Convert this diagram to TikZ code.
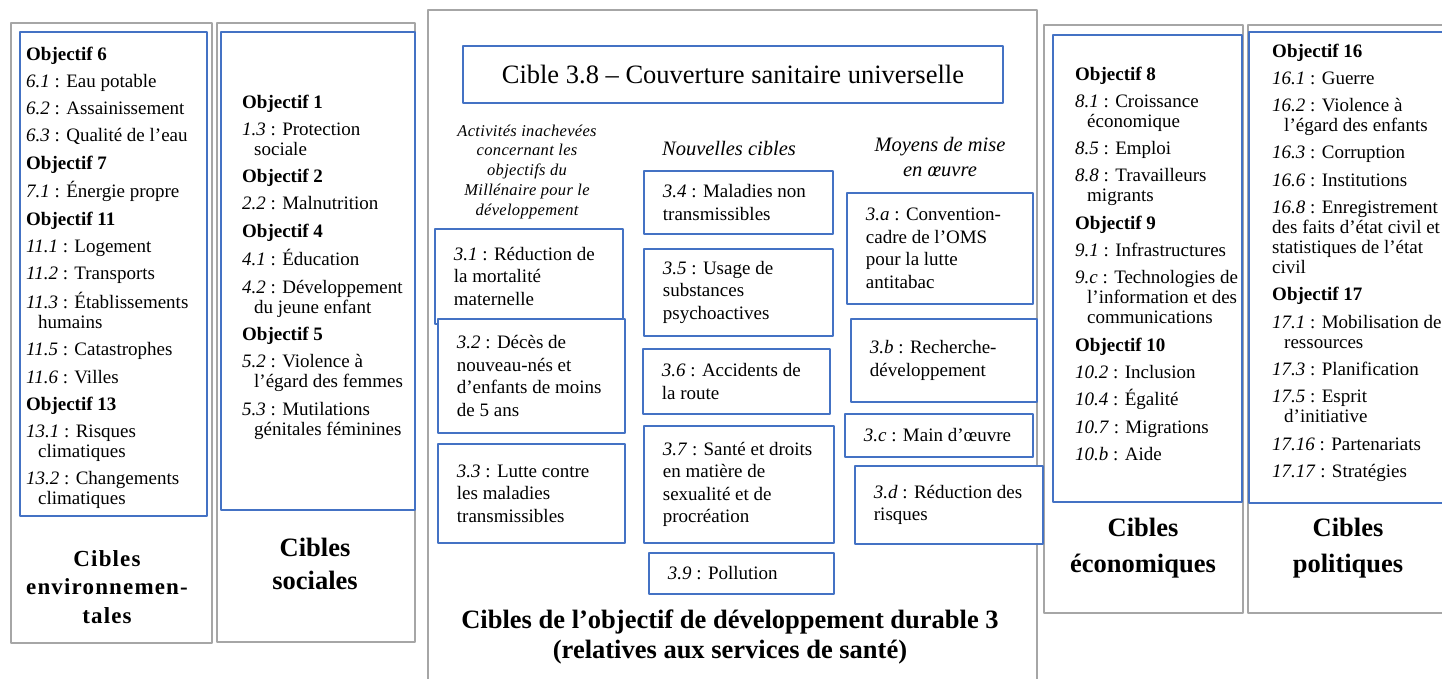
\documentclass[tikz,border=0pt]{standalone}
\usepackage{fontspec}
\setmainfont{Liberation Serif}
\definecolor{boxblue}{HTML}{4472C4}
\definecolor{framegray}{HTML}{A6A6A6}
\newcommand{\obj}[1]{\textbf{Objectif #1}}
\newcommand{\tg}[2]{\textit{#1} : #2}
\newcommand{\ind}{\hspace*{12pt}}
\newcommand{\ig}{7.3pt}
\begin{document}
\begin{tikzpicture}[x=1pt, y=-1pt, line join=round,
	outerbox/.style={draw=framegray, line width=2.5pt},
	panel/.style={draw=boxblue, line width=1.8pt},
	lst/.style={anchor=base west, inner sep=0pt, text width=240pt, align=flush left, font=\fontsize{19}{20}\selectfont},
	cbox/.style={draw=boxblue, fill=white, line width=1.8pt, anchor=north west, inner xsep=19pt, inner ysep=0pt, align=flush left, font=\fontsize{19}{22.5}\selectfont},
	lab/.style={anchor=base, inner sep=0pt, text width=260pt, align=flush center, font=\bfseries\fontsize{26.5}{35}\selectfont},
	colhead/.style={anchor=base, inner sep=0pt, text width=220pt, align=flush center, font=\itshape\fontsize{20.5}{25}\selectfont}]
	\useasboundingbox (0,0) rectangle (1442,678);
	
	% grey frames
	\draw[outerbox] (11,23) rectangle (212,643);
	\draw[outerbox] (217,23) rectangle (415,642);
	\draw[outerbox] (428,10) rectangle (1037,700);
	\draw[outerbox] (1044,25) rectangle (1243,613);
	\draw[outerbox] (1248,25) rectangle (1470,613);
	
	% blue panels
	\draw[panel] (20,32) rectangle (207,516);
	\draw[panel] (221,32) rectangle (415,510);
	\draw[panel] (1053,35) rectangle (1242,502);
	\draw[panel] (1249,32) rectangle (1470,503);
	
	% environnement
	\node[lst] (env) at (26,60) {\obj{6}\\[\ig]
		\tg{6.1}{Eau potable}\\[\ig]
		\tg{6.2}{Assainissement}\\[\ig]
		\tg{6.3}{Qualité de l’eau}\\[\ig]
		\obj{7}\\[\ig]
		\tg{7.1}{Énergie propre}\\[\ig]
		\obj{11}\\[\ig]
		\tg{11.1}{Logement}\\[\ig]
		\tg{11.2}{Transports}\\[\ig]
		\tg{11.3}{Établissements}\\ \ind humains\\[\ig]
		\tg{11.5}{Catastrophes}\\[\ig]
		\tg{11.6}{Villes}\\[\ig]
		\obj{13}\\[\ig]
		\tg{13.1}{Risques}\\ \ind climatiques\\[\ig]
		\tg{13.2}{Changements}\\ \ind climatiques};
	\node[lab, font=\bfseries\fontsize{23}{28.5}\selectfont\addfontfeature{LetterSpace=5}] (envlab) at (107,566) {Cibles\\environnemen-\\tales};
	
	% social
	\node[lst] (soc) at (242,108) {\obj{1}\\[\ig]
		\tg{1.3}{Protection}\\ \ind sociale\\[\ig]
		\obj{2}\\[\ig]
		\tg{2.2}{Malnutrition}\\[\ig]
		\obj{4}\\[\ig]
		\tg{4.1}{Éducation}\\[\ig]
		\tg{4.2}{Développement}\\ \ind du jeune enfant\\[\ig]
		\obj{5}\\[\ig]
		\tg{5.2}{Violence à}\\ \ind l’égard des femmes\\[\ig]
		\tg{5.3}{Mutilations}\\ \ind génitales féminines};
	\node[lab, font=\bfseries\fontsize{26.5}{33}\selectfont] (soclab) at (315,556) {Cibles\\sociales};
	
	% ODD 3
	\node[draw=boxblue, line width=1.8pt, minimum width=540pt, minimum height=57pt, inner sep=0pt, anchor=north west,
		font=\fontsize{26.5}{30}\selectfont] (cible38) at (462,45) {Cible 3.8 – Couverture sanitaire universelle};
	\node[colhead, font=\itshape\fontsize{16.5}{19.8}\selectfont\addfontfeature{LetterSpace=2}] (omd) at (527,136)
		{Activités inachevées\\concernant les\\objectifs du\\Millénaire pour le\\développement};
	\node[colhead] (nouv) at (729,155) {Nouvelles cibles};
	\node[colhead] (moyens) at (940,151) {Moyens de mise\\en œuvre};
	
	\node[cbox, text width=150pt, minimum height=95pt] (t31) at (434,228) {\tg{3.1}{Réduction de}\\la mortalité\\maternelle};
	\node[cbox, text width=149pt, minimum height=114pt] (t32) at (437,318) {\tg{3.2}{Décès de}\\nouveau-nés et\\d’enfants de moins\\de 5 ans};
	\node[cbox, text width=149pt, minimum height=99pt] (t33) at (437,443) {\tg{3.3}{Lutte contre}\\les maladies\\transmissibles};
	
	\node[cbox, text width=151pt, minimum height=63pt] (t34) at (643,170) {\tg{3.4}{Maladies non}\\transmissibles};
	\node[cbox, text width=151pt, minimum height=87pt] (t35) at (643,248) {\tg{3.5}{Usage de}\\substances\\psychoactives};
	\node[cbox, text width=149pt, minimum height=65pt] (t36) at (642,348) {\tg{3.6}{Accidents de}\\la route};
	\node[cbox, text width=152pt, minimum height=117pt] (t37) at (643,425) {\tg{3.7}{Santé et droits}\\en matière de\\sexualité et de\\procréation};
	\node[cbox, text width=147pt, minimum height=41pt] (t39) at (648,552) {\tg{3.9}{Pollution}};
	
	\node[cbox, text width=148pt, minimum height=111pt] (t3a) at (846,192) {\tg{3.a}{Convention-}\\cadre de l’OMS\\pour la lutte\\antitabac};
	\node[cbox, text width=148pt, minimum height=83pt] (t3b) at (850,318) {\tg{3.b}{Recherche-}\\développement};
	\node[cbox, text width=150pt, minimum height=43pt] (t3c) at (844,413) {\tg{3.c}{Main d’œuvre}};
	\node[cbox, text width=150pt, minimum height=78pt] (t3d) at (854,465) {\tg{3.d}{Réduction des}\\risques};
	
	\node[lab, text width=600pt, font=\bfseries\fontsize{26.5}{30}\selectfont] (odd3) at (730,628)
		{Cibles de l’objectif de développement durable 3\\(relatives aux services de santé)};
	
	% economie
	\node[lst] (eco) at (1075,80) {\obj{8}\\[\ig]
		\tg{8.1}{Croissance}\\ \ind économique\\[\ig]
		\tg{8.5}{Emploi}\\[\ig]
		\tg{8.8}{Travailleurs}\\ \ind migrants\\[\ig]
		\obj{9}\\[\ig]
		\tg{9.1}{Infrastructures}\\[\ig]
		\tg{9.c}{Technologies de}\\ \ind l’information et des\\ \ind communications\\[\ig]
		\obj{10}\\[\ig]
		\tg{10.2}{Inclusion}\\[\ig]
		\tg{10.4}{Égalité}\\[\ig]
		\tg{10.7}{Migrations}\\[\ig]
		\tg{10.b}{Aide}};
	\node[lab, font=\bfseries\fontsize{26.5}{36}\selectfont] (ecolab) at (1143,536) {Cibles\\économiques};
	
	% politique
	\node[lst] (pol) at (1272,57) {\obj{16}\\[\ig]
		\tg{16.1}{Guerre}\\[\ig]
		\tg{16.2}{Violence à}\\ \ind l’égard des enfants\\[\ig]
		\tg{16.3}{Corruption}\\[\ig]
		\tg{16.6}{Institutions}\\[\ig]
		\tg{16.8}{Enregistrement}\\des faits d’état civil et\\statistiques de l’état\\civil\\[\ig]
		\obj{17}\\[\ig]
		\tg{17.1}{Mobilisation des}\\ \ind ressources\\[\ig]
		\tg{17.3}{Planification}\\[\ig]
		\tg{17.5}{Esprit}\\ \ind d’initiative\\[\ig]
		\tg{17.16}{Partenariats}\\[\ig]
		\tg{17.17}{Stratégies}};
	\node[lab, font=\bfseries\fontsize{26.5}{36}\selectfont] (pollab) at (1348,536) {Cibles\\politiques};
\end{tikzpicture}
\end{document}
